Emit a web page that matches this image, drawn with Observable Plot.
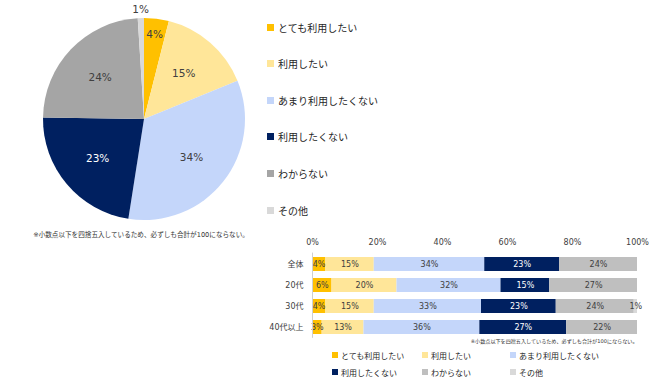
<!DOCTYPE html>
<html><head><meta charset="utf-8">
<script src="https://cdn.jsdelivr.net/npm/d3@7"></script>
<script src="https://cdn.jsdelivr.net/npm/@observablehq/plot@0.6"></script>
<style>
body{margin:0;background:#fff;}
#root{position:relative;width:650px;height:380px;font-family:"DejaVu Sans","Noto Sans CJK JP",sans-serif;color:#333;overflow:hidden;}
.abs{position:absolute;}
.lg{position:absolute;display:flex;align-items:center;white-space:nowrap;}
.sw{display:inline-block;}
</style></head>
<body><div id="root"></div>
<script>
const categories = ["とても利用したい","利用したい","あまり利用したくない","利用したくない","わからない","その他"];
const pieValues = [4,15,34,23,24,1];
const groups = ["全体","20代","30代","40代以上"];
const allValues = [4,15,34,23,24,0];
const age20Values = [6,20,32,15,27,0];
const age30Values = [4,15,33,23,24,1];
const age40Values = [3,13,36,27,22,0];
const xTicks = [0,20,40,60,80,100];
const note = "※小数点以下を四捨五入しているため、必ずしも合計が100にならない。";

const pieColors = ["#FFC000","#FFE699","#C4D6FA","#002060","#A5A5A5","#D9D9D9"];
const barColors = ["#FFC000","#FFE699","#C4D6FA","#002060","#BFBFBF","#D9D9D9"];
const FONT = '"DejaVu Sans","Noto Sans CJK JP",sans-serif';

const root = document.getElementById("root");

// ---- Pie ----
const pieData = categories.map((c,i)=>({cat:c,value:pieValues[i],color:pieColors[i]}));
const cx = 144, cy = 119, R = 101;
const pieMark = (index, scales, values, dims) => {
  const g = d3.create("svg:g");
  const arcs = d3.pie().sort(null).value(d=>d.value)(pieData);
  const arc = d3.arc().innerRadius(0).outerRadius(R);
  g.append("g").attr("transform",`translate(${cx},${cy})`)
    .selectAll("path").data(arcs).join("path")
    .attr("d",arc).attr("fill",d=>d.data.color);
  const lab = g.append("g").attr("transform",`translate(${cx},${cy})`);
  arcs.forEach(a=>{
    const v=a.data.value;
    const rr = v<2 ? R+9 : (v<5 ? 0.85*R : 0.6*R);
    const m=(a.startAngle+a.endAngle)/2;
    lab.append("text").attr("x",rr*Math.sin(m)).attr("y",-rr*Math.cos(m))
      .attr("text-anchor","middle").attr("dominant-baseline","central")
      .attr("font-size",10.5).attr("font-family",FONT)
      .attr("fill", a.data.color==="#002060" ? "#fff" : "#404040")
      .text(v+"%");
  });
  g.append("text").attr("x",141).attr("y",235).attr("text-anchor","middle")
    .attr("dominant-baseline","central").attr("font-size",6.6)
    .attr("font-family",FONT).attr("fill","#333").text(note);
  return g.node();
};
const pie = Plot.plot({width:260,height:242,margin:0,marks:[pieMark]});
pie.classList.add("abs"); pie.style.left="0px"; pie.style.top="0px";
root.appendChild(pie);

// pie legend
categories.forEach((c,i)=>{
  const d=document.createElement("div"); d.className="lg";
  d.style.left="267px"; d.style.top=(27+i*36.6-7)+"px"; d.style.height="14px";
  d.style.fontSize="10px"; d.style.color="#262626";
  d.innerHTML=`<span class="sw" style="width:7px;height:7px;background:${pieColors[i]};margin-right:4px"></span>${c}`;
  root.appendChild(d);
});

// ---- Bars ----
const rows = [allValues,age20Values,age30Values,age40Values];
const barData = [];
groups.forEach((g,gi)=>categories.forEach((c,ci)=>barData.push({group:g,cat:c,value:rows[gi][ci]})));
const H=120, mt=24.6, band=85.2;
const bars = Plot.plot({
  width:400,height:H,marginLeft:62,marginRight:13,marginTop:mt,marginBottom:H-mt-band,
  style:{fontFamily:FONT,fontSize:"8px",color:"#404040",background:"transparent",overflow:"visible"},
  x:{domain:[0,1],axis:"top",ticks:xTicks.map(t=>t/100),tickFormat:d=>Math.round(d*100)+"%",tickSize:0,tickPadding:8,label:null},
  y:{domain:groups,paddingInner:0.34,paddingOuter:0.17,tickSize:0,tickPadding:9,label:null},
  color:{domain:categories,range:barColors},
  marks:[
    Plot.barX(barData,Plot.stackX({x:"value",y:"group",fill:"cat",offset:"normalize"})),
    Plot.text(barData,Plot.stackX({x:"value",y:"group",z:"cat",offset:"normalize",
      text:d=>d.value>0?d.value+"%":"",fill:d=>d.cat==="利用したくない"?"#fff":"#404040",fontSize:8})),
    Plot.ruleX([0],{stroke:"#D0D0D0",strokeWidth:1}),
    Plot.text([note],{frameAnchor:"bottom-right",lineAnchor:"top",dy:1.5,text:d=>d,fontSize:5.1,fill:"#333"})
  ]
});
bars.classList.add("abs"); bars.style.left="250px"; bars.style.top="228px";
root.appendChild(bars);

// bar legend
const colX=[332,422,510];
categories.forEach((c,i)=>{
  const d=document.createElement("div"); d.className="lg";
  d.style.left=colX[i%3]+"px"; d.style.top=((i<3?355:372)-6)+"px"; d.style.height="12px";
  d.style.fontSize="8px"; d.style.color="#262626";
  d.innerHTML=`<span class="sw" style="width:6px;height:6px;background:${barColors[i]};margin-right:3px"></span>${c}`;
  root.appendChild(d);
});
</script></body></html>
